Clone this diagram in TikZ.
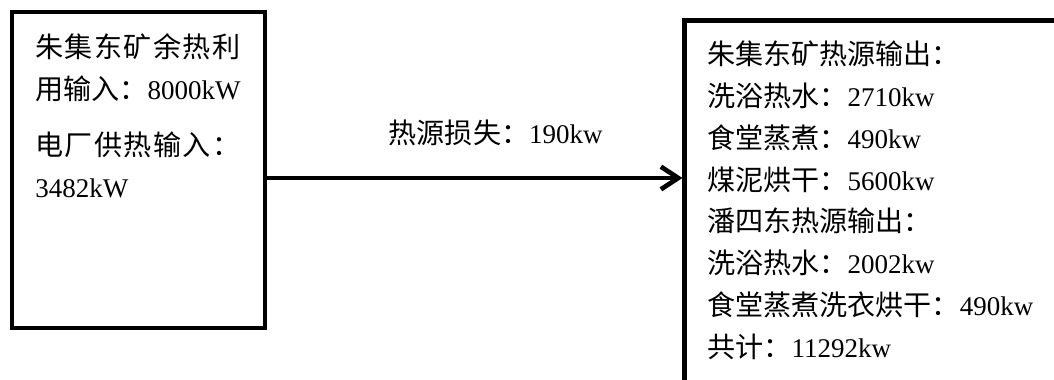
\documentclass[tikz,border=0pt]{standalone}
\usepackage{fontspec}
\setmainfont{Liberation Serif}
\newfontfamily\cjk[Scale=1.04]{Noto Sans CJK SC}
\newfontfamily\cjkwide[Scale=1.04,LetterSpace=5]{Noto Sans CJK SC}
\newcommand{\zh}[1]{{\cjk #1}}
\newcommand{\zhw}[1]{{\cjkwide #1}}
\usetikzlibrary{arrows.meta,positioning}
\tikzset{
	box/.style={draw, line width=3.5pt, outer sep=0, inner sep=0, anchor=north west},
	txt/.style={align=left, inner sep=0, anchor=base west},
	flow/.style={line width=3.5pt, -{Straight Barb[length=13pt,width=17pt]}, shorten >=1.5pt}
}

\begin{document}
\begin{tikzpicture}[x=0.75pt, y=-0.75pt]
	\useasboundingbox (0,0) rectangle (1054,379);
	\clip (0,0) rectangle (1054,379);
	
	% input box and output box
	\node[box, minimum width=189.75pt, minimum height=237pt] (src) at (12,12) {};
	\node[box, minimum width=300pt, minimum height=300pt] (dst) at (684.5,20.5) {};
	
	% anchored at the baseline of the last line
	\node[txt, font=\fontsize{20.25pt}{31.5pt}\selectfont] (srctxt) at (35,197) {
		\zhw{朱集东矿余热利} \\ \zh{用输入：}8000kW \\[10.5pt]
		\zhw{电厂供热输入：} \\ 3482kW
	};
	\node[txt, font=\fontsize{20.25pt}{31.3pt}\selectfont] (dsttxt) at (707,357) {
		\zh{朱集东矿热源输出：} \\
		\zh{洗浴热水：}2710kw \\
		\zh{食堂蒸煮：}490kw \\
		\zh{煤泥烘干：}5600kw \\
		\zh{潘四东热源输出：} \\
		\zh{洗浴热水：}2002kw \\
		\zh{食堂蒸煮洗衣烘干：}490kw \\
		\zh{共计：}11292kw
	};
	
	\draw[flow] ([yshift=-6pt]src.east) -- ([yshift=-6pt]src.east -| dst.west)
		node[pos=0.55, anchor=base, yshift=26pt, font=\fontsize{20.25pt}{24pt}\selectfont] (loss) {\zh{热源损失：}190kw};
\end{tikzpicture}
\end{document}
